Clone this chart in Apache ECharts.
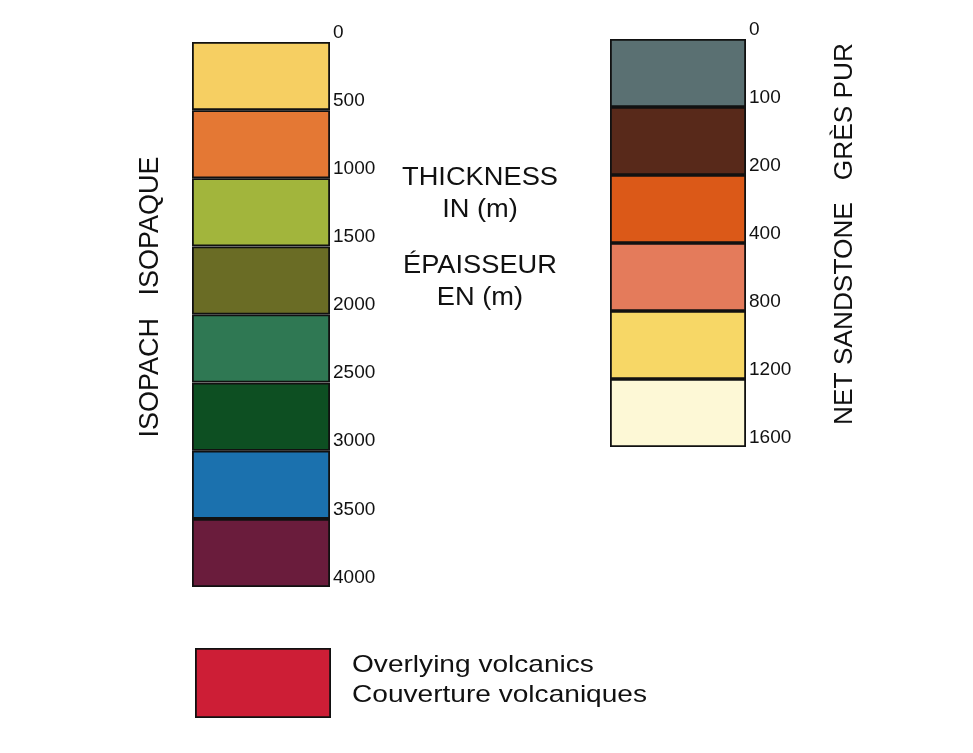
<!DOCTYPE html>
<html><head><meta charset="utf-8">
<script src="https://cdn.jsdelivr.net/npm/echarts@6/dist/echarts.min.js"></script>
<style>html,body{margin:0;padding:0;background:#fff}#c{width:973px;height:753px}</style>
</head><body><div id="c"></div>
<script>
const isopachBreaks = [0, 500, 1000, 1500, 2000, 2500, 3000, 3500, 4000];
const isopachColors = ['#f6cf62', '#e47834', '#a2b53c', '#6a6c25', '#2f7853', '#0d4f22', '#1b71ae', '#6a1c3c'];
const sandBreaks = [0, 100, 200, 400, 800, 1200, 1600];
const sandColors = ['#5a7072', '#58291a', '#db5918', '#e47b5b', '#f7d766', '#fdf8d6'];
const volcanicLabel = ['Overlying volcanics', 'Couverture volcaniques'];
const volcanicColor = '#cd1e36';
const leftTitle = 'ISOPACH   ISOPAQUE';
const rightTitle = 'NET SANDSTONE   GRÈS PUR';
const centerText = ['THICKNESS', 'IN (m)', 'ÉPAISSEUR', 'EN (m)'];

const FONT = 'Liberation Sans, Arial, sans-serif';
const chart = echarts.init(document.getElementById('c'));

function column(gridIndex, breaks, colors) {
  return colors.map((c, i) => ({
    type: 'bar', xAxisIndex: gridIndex, yAxisIndex: gridIndex, stack: 's' + gridIndex,
    barWidth: '100%', data: [1], silent: true,
    itemStyle: { color: c, borderColor: '#111', borderWidth: 1.8 }
  }));
}
function yAx(gridIndex, breaks) {
  return {
    type: 'value', gridIndex, min: 0, max: breaks.length - 1, interval: 1, inverse: true, position: 'right',
    axisLine: { show: false }, axisTick: { show: false }, splitLine: { show: false },
    axisLabel: { formatter: v => String(breaks[v]), fontFamily: FONT, fontSize: 19, color: '#111', margin: 3, verticalAlign: 'bottom', lineHeight: 19 }
  };
}
const series = [].concat(column(0, isopachBreaks, isopachColors), column(1, sandBreaks, sandColors), [{
  type: 'bar', xAxisIndex: 2, yAxisIndex: 2, barWidth: '100%', data: [1], silent: true,
  itemStyle: { color: volcanicColor, borderColor: '#111', borderWidth: 1.8 }
}]);

function txt(x, y, s, size, sx, rot, align) {
  return { type: 'text', x, y, rotation: rot || 0, scaleX: sx || 1,
    style: { text: s, font: size + 'px ' + FONT, fill: '#111', align: align || 'center', verticalAlign: 'middle' } };
}

chart.setOption({
  animation: false,
  backgroundColor: '#fff',
  grid: [
    { left: 192, width: 138, top: 42, height: 545 },
    { left: 610, width: 136, top: 39, height: 408 },
    { left: 195, width: 136, top: 648, height: 70 }
  ],
  xAxis: [0, 1, 2].map(g => ({ type: 'category', gridIndex: g, data: [''], show: false })),
  yAxis: [yAx(0, isopachBreaks), yAx(1, sandBreaks), { type: 'value', gridIndex: 2, min: 0, max: 1, show: false }],
  series,
  graphic: [
    txt(151, 297, leftTitle, 27, 1, Math.PI / 2),
    txt(845, 234, rightTitle, 26, 1.01, Math.PI / 2),
    txt(480, 178, centerText[0], 25, 1.09),
    txt(480, 210, centerText[1], 25, 1.09),
    txt(480, 266, centerText[2], 25, 1.09),
    txt(480, 298, centerText[3], 25, 1.09),
    txt(352, 665, volcanicLabel[0], 24, 1.17, 0, 'left'),
    txt(352, 695, volcanicLabel[1], 24, 1.17, 0, 'left')
  ]
});
</script>
</body></html>
